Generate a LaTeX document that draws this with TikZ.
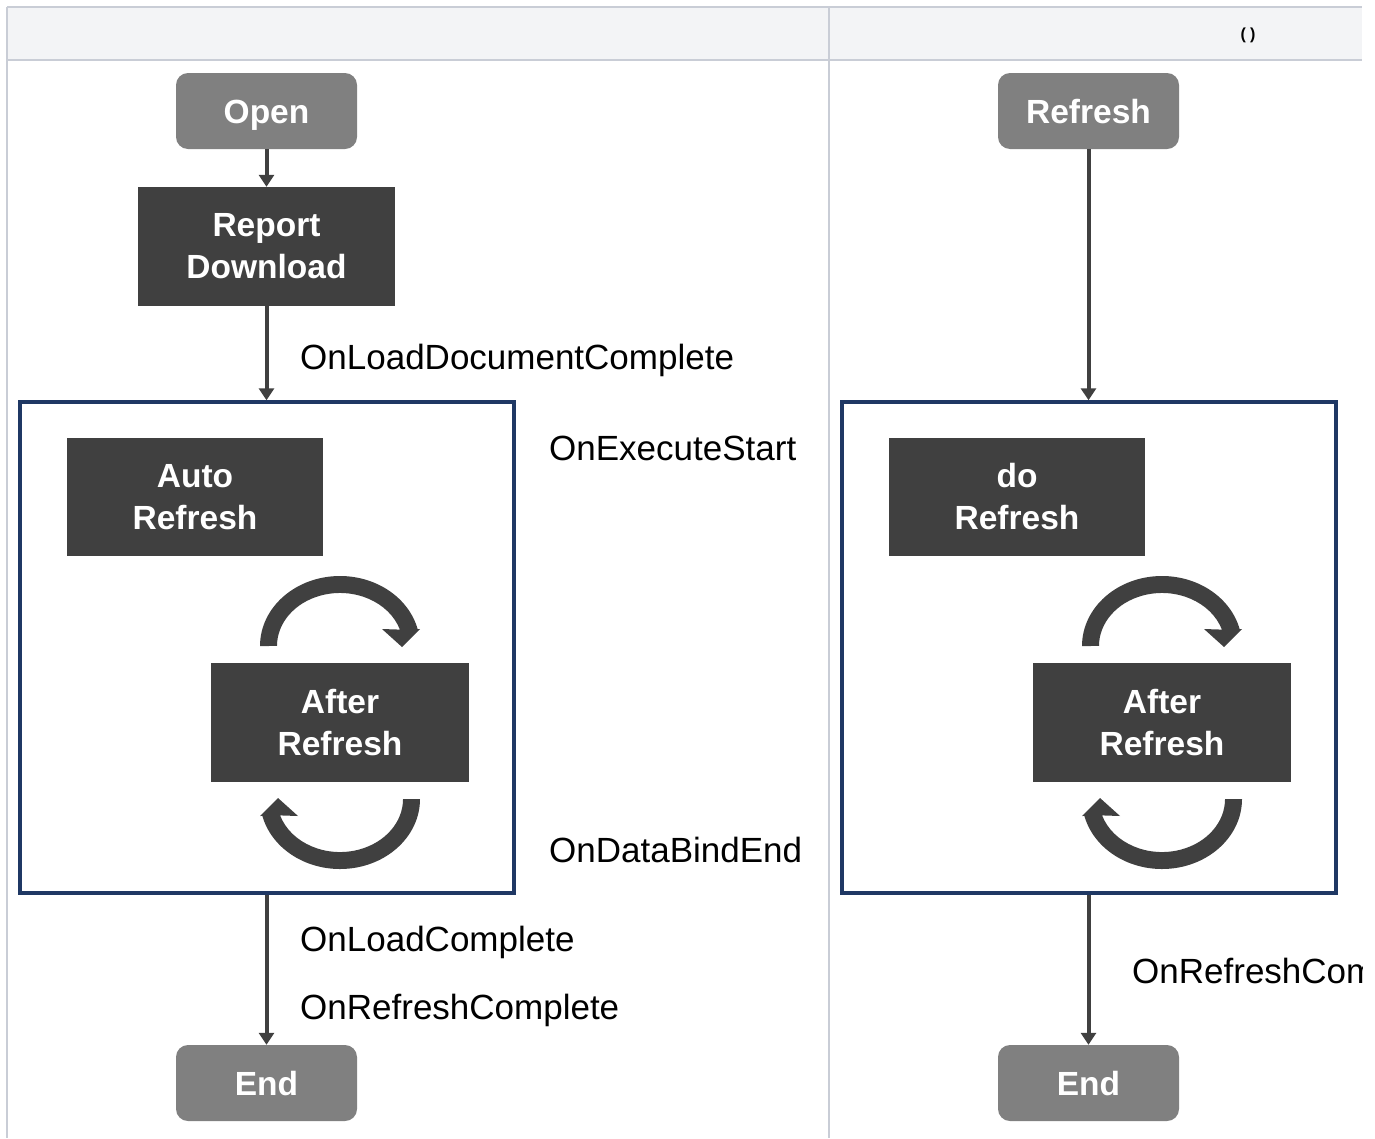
\documentclass[tikz,border=0pt]{standalone}
\usepackage{fontspec}
\setmainfont{Liberation Sans}
\usetikzlibrary{arrows.meta}
\definecolor{termgray}{HTML}{808080}
\definecolor{procdark}{HTML}{404040}
\definecolor{navy}{HTML}{1F3864}
\definecolor{hdrfill}{HTML}{F3F4F6}
\definecolor{hdrline}{HTML}{C9CDD6}
\newcommand\bfnt{\bfseries\fontsize{33.5}{42}\selectfont}
\newcommand\rfnt{\fontsize{35}{42}\selectfont}
\tikzset{
  term/.style={rectangle, rounded corners=12pt, fill=termgray, text=white, font=\bfnt,
    minimum width=181pt, minimum height=76pt, inner sep=0pt, text height=24pt, text depth=0pt},
  proc/.style={rectangle, fill=procdark, text=white, font=\bfnt, align=center,
    minimum width=257pt, minimum height=119pt, inner sep=0pt},
  grp/.style={rectangle, draw=navy, line width=3.5pt, minimum width=494pt, minimum height=491pt, inner sep=0pt},
  flow/.style={draw=procdark, line width=4pt, -{Triangle[width=15pt,length=12pt]}},
  evt/.style={font=\rfnt, anchor=base west, inner sep=0pt},
  hline/.style={draw=hdrline, line width=2pt},
  loopar/.pic={
    \fill[procdark] (-80,76.5) arc[start angle=180, end angle=14, x radius=80, y radius=70]
      -- (80,93.5) -- (62,75.5) -- (42,93.5) -- (59.9,92.9)
      arc[start angle=18, end angle=180, x radius=63, y radius=53] -- cycle;
  }
}
\begin{document}
\begin{tikzpicture}[x=1pt,y=1pt]
\useasboundingbox (0,0) rectangle (1375,-1138);
% table frame
\fill[hdrfill] (7,-7) rectangle (1362,-60);
\draw[hline] (7,-7) -- (1362,-7);
\draw[hline] (7,-60) -- (1362,-60);
\draw[hline] (7,-7) -- (7,-1138);
\draw[hline] (829,-7) -- (829,-1138);
\node[font=\bfseries\fontsize{16}{18}\selectfont, inner sep=0pt] (hdr) at (1248,-35) {(\hspace{4pt})};

% left column
\node[term] (open) at (266.5,-111) {Open};
\node[proc] (rep) at (266.5,-246.5) {Report\\Download};
\node[grp] (gl) at (267,-647.5) {};
\node[proc, minimum width=256pt, minimum height=118pt] (auto) at (195,-497) {Auto\\Refresh};
\node[proc, minimum width=258pt] (afl) at (340,-722.5) {After\\Refresh};
\pic at (afl) {loopar};
\pic[rotate=180] at (afl) {loopar};
\node[term] (endl) at (266.5,-1083) {End};
\draw[flow] (open.south) -- (rep.north);
\draw[flow] (rep.south) -- (rep.south |- gl.north);
\draw[flow] (endl.north |- gl.south) -- (endl.north);
\node[evt] (e1) at (300,-369) {OnLoadDocumentComplete};
\node[evt] (e2) at (549,-460) {OnExecuteStart};
\node[evt] (e3) at (549,-862) {OnDataBindEnd};
\node[evt] (e4) at (300,-951) {OnLoadComplete};
\node[evt] (e5) at (300,-1019) {OnRefreshComplete};

% right column
\node[term] (refr) at (1088.5,-111) {Refresh};
\node[grp] (gr) at (1089,-647.5) {};
\node[proc, minimum width=256pt, minimum height=118pt] (dor) at (1017,-497) {do\\Refresh};
\node[proc, minimum width=258pt] (afr) at (1162,-722.5) {After\\Refresh};
\pic at (afr) {loopar};
\pic[rotate=180] at (afr) {loopar};
\node[term] (endr) at (1088.5,-1083) {End};
\draw[flow] (refr.south) -- (refr.south |- gr.north);
\draw[flow] (endr.north |- gr.south) -- (endr.north);
\begin{scope}
\clip (829,-60) rectangle (1362,-1138);
\node[evt] (e6) at (1132,-983) {OnRefreshComplete};
\end{scope}
\end{tikzpicture}
\end{document}
